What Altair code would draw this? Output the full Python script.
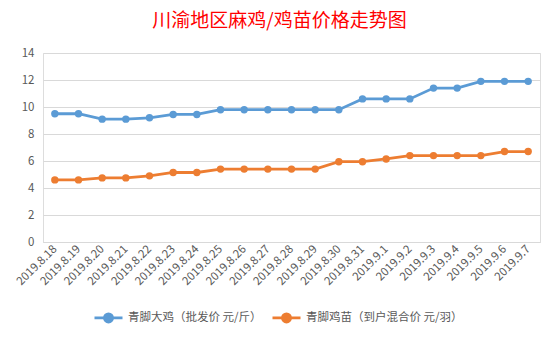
import altair as alt
import pandas as pd

dates = ["2019.8.18", "2019.8.19", "2019.8.20", "2019.8.21", "2019.8.22", "2019.8.23",
         "2019.8.24", "2019.8.25", "2019.8.26", "2019.8.27", "2019.8.28", "2019.8.29",
         "2019.8.30", "2019.8.31", "2019.9.1", "2019.9.2", "2019.9.3", "2019.9.4",
         "2019.9.5", "2019.9.6", "2019.9.7"]
chicken = [9.5, 9.5, 9.1, 9.1, 9.2, 9.45, 9.45, 9.8, 9.8, 9.8, 9.8, 9.8, 9.8,
           10.6, 10.6, 10.6, 11.4, 11.4, 11.9, 11.9, 11.9]
chick = [4.6, 4.6, 4.75, 4.75, 4.9, 5.15, 5.15, 5.4, 5.4, 5.4, 5.4, 5.4, 5.95,
         5.95, 6.15, 6.4, 6.4, 6.4, 6.4, 6.7, 6.7]
series = ["青脚大鸡（批发价 元/斤）", "青脚鸡苗（到户混合价 元/羽）"]
colors = ["#5B9BD5", "#ED7D31"]
title = "川渝地区麻鸡/鸡苗价格走势图"

rows = []
for i, d in enumerate(dates):
    rows.append({"date": d, "series": series[0], "value": chicken[i]})
    rows.append({"date": d, "series": series[1], "value": chick[i]})
df = pd.DataFrame(rows)

FONT = "Noto Sans CJK SC"
sym = "M-1,0L1,0M0.29,0A0.29,0.29,0,1,1,-0.29,0A0.29,0.29,0,1,1,0.29,0Z"

chart = alt.Chart(df).mark_line(
    strokeWidth=2.8,
    point=alt.OverlayMarkDef(filled=True, size=55),
).encode(
    x=alt.X("date:N", sort=dates, title=None,
            axis=alt.Axis(labelAngle=-45, labelAlign="right", labelBaseline="middle",
                          labelPadding=5, ticks=False, grid=False,
                          domainColor="#D9D9D9", labelColor="#595959",
                          labelFontSize=11.5, labelFont=FONT)),
    y=alt.Y("value:Q", title=None,
            scale=alt.Scale(domain=[0, 14], nice=False),
            axis=alt.Axis(values=list(range(0, 15, 2)), domain=False, ticks=False,
                          gridColor="#D9D9D9", labelColor="#595959",
                          labelFontSize=11.5, labelPadding=9, labelFont=FONT)),
    color=alt.Color("series:N", sort=series,
                    scale=alt.Scale(domain=series, range=colors),
                    legend=alt.Legend(title=None, orient="none", direction="horizontal",
                                      legendX=50, legendY=249,
                                      symbolType=sym, symbolSize=784,
                                      symbolStrokeWidth=2.8, labelLimit=400,
                                      labelFontSize=11.5, labelColor="#595959",
                                      labelFont=FONT, columnPadding=4)),
    order=alt.Order("series:N"),
).properties(
    width=497, height=189,
    title=alt.TitleParams(title, color="#FF0000", fontSize=19, font=FONT,
                          fontWeight="normal", anchor="middle", dx=-12, offset=16),
    autosize=alt.AutoSizeParams(type="none"),
    padding={"left": 43, "top": 53, "right": 20, "bottom": 98},
).configure_view(stroke=None).configure(background="white")

chart.save("out.html", embed_options={"renderer": "svg", "actions": False})
